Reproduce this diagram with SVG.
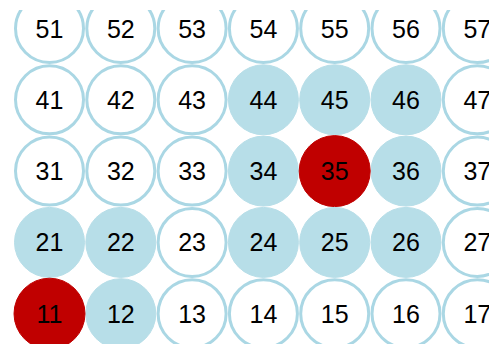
<svg xmlns="http://www.w3.org/2000/svg" width="504" height="344" viewBox="0 0 504 344">
<style>
.o{fill:#ffffff;stroke:#aad7e4;stroke-width:3}
.b{fill:#b7dee8;stroke:#b7dee8;stroke-width:1}
.r{fill:#c00000;stroke:#c00000;stroke-width:1}
text{font-family:"Liberation Sans",Arial,sans-serif;font-size:25px;fill:#000;text-anchor:middle}
</style>
<defs>
<clipPath id="clip"><rect x="0" y="10" width="489" height="334"/></clipPath>
</defs>
<rect width="504" height="344" fill="#ffffff"/>
<g clip-path="url(#clip)">
<g id="n51"><circle class="o" cx="49.5" cy="28.5" r="34"/><text x="49.5" y="37.5">51</text></g>
<g id="n52"><circle class="o" cx="120.8" cy="28.5" r="34"/><text x="120.8" y="37.5">52</text></g>
<g id="n53"><circle class="o" cx="192.1" cy="28.5" r="34"/><text x="192.1" y="37.5">53</text></g>
<g id="n54"><circle class="o" cx="263.4" cy="28.5" r="34"/><text x="263.4" y="37.5">54</text></g>
<g id="n55"><circle class="o" cx="334.7" cy="28.5" r="34"/><text x="334.7" y="37.5">55</text></g>
<g id="n56"><circle class="o" cx="406" cy="28.5" r="34"/><text x="406" y="37.5">56</text></g>
<g id="n57"><circle class="o" cx="477.3" cy="28.5" r="34"/><text x="477.3" y="37.5">57</text></g>

<g id="n41"><circle class="o" cx="49.5" cy="99.8" r="34"/><text x="49.5" y="108.8">41</text></g>
<g id="n42"><circle class="o" cx="120.8" cy="99.8" r="34"/><text x="120.8" y="108.8">42</text></g>
<g id="n43"><circle class="o" cx="192.1" cy="99.8" r="34"/><text x="192.1" y="108.8">43</text></g>
<g id="n47"><circle class="o" cx="477.3" cy="99.8" r="34"/><text x="477.3" y="108.8">47</text></g>
<g id="n44"><circle class="b" cx="263.4" cy="99.8" r="35"/><text x="263.4" y="108.8">44</text></g>
<g id="n45"><circle class="b" cx="334.7" cy="99.8" r="35"/><text x="334.7" y="108.8">45</text></g>
<g id="n46"><circle class="b" cx="406" cy="99.8" r="35"/><text x="406" y="108.8">46</text></g>

<g id="n31"><circle class="o" cx="49.5" cy="171.1" r="34"/><text x="49.5" y="180.1">31</text></g>
<g id="n32"><circle class="o" cx="120.8" cy="171.1" r="34"/><text x="120.8" y="180.1">32</text></g>
<g id="n33"><circle class="o" cx="192.1" cy="171.1" r="34"/><text x="192.1" y="180.1">33</text></g>
<g id="n37"><circle class="o" cx="477.3" cy="171.1" r="34"/><text x="477.3" y="180.1">37</text></g>
<g id="n34"><circle class="b" cx="263.4" cy="171.1" r="35"/><text x="263.4" y="180.1">34</text></g>
<g id="n36"><circle class="b" cx="406" cy="171.1" r="35"/><text x="406" y="180.1">36</text></g>
<g id="n35"><circle class="r" cx="334.7" cy="171.1" r="35.5"/><text x="334.7" y="180.1">35</text></g>

<g id="n23"><circle class="o" cx="192.1" cy="242.4" r="34"/><text x="192.1" y="251.4">23</text></g>
<g id="n27"><circle class="o" cx="477.3" cy="242.4" r="34"/><text x="477.3" y="251.4">27</text></g>
<g id="n21"><circle class="b" cx="49.5" cy="242.4" r="35"/><text x="49.5" y="251.4">21</text></g>
<g id="n22"><circle class="b" cx="120.8" cy="242.4" r="35"/><text x="120.8" y="251.4">22</text></g>
<g id="n24"><circle class="b" cx="263.4" cy="242.4" r="35"/><text x="263.4" y="251.4">24</text></g>
<g id="n25"><circle class="b" cx="334.7" cy="242.4" r="35"/><text x="334.7" y="251.4">25</text></g>
<g id="n26"><circle class="b" cx="406" cy="242.4" r="35"/><text x="406" y="251.4">26</text></g>

<g id="n13"><circle class="o" cx="192.1" cy="313.7" r="34"/><text x="192.1" y="322.7">13</text></g>
<g id="n14"><circle class="o" cx="263.4" cy="313.7" r="34"/><text x="263.4" y="322.7">14</text></g>
<g id="n15"><circle class="o" cx="334.7" cy="313.7" r="34"/><text x="334.7" y="322.7">15</text></g>
<g id="n16"><circle class="o" cx="406" cy="313.7" r="34"/><text x="406" y="322.7">16</text></g>
<g id="n17"><circle class="o" cx="477.3" cy="313.7" r="34"/><text x="477.3" y="322.7">17</text></g>
<g id="n12"><circle class="b" cx="120.8" cy="313.7" r="35"/><text x="120.8" y="322.7">12</text></g>
<g id="n11"><circle class="r" cx="49.5" cy="313.7" r="35.5"/><text x="49.5" y="322.7">11</text></g>
</g>
</svg>
